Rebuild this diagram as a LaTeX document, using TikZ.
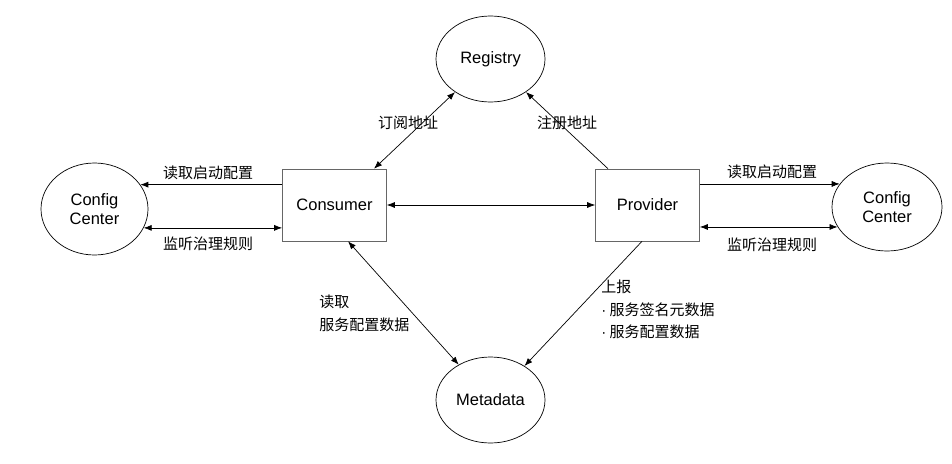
\documentclass[tikz,border=0pt]{standalone}
\usepackage{fontspec}
\setmainfont{Liberation Sans}
\newfontfamily\cjk{Noto Sans CJK SC}
\usetikzlibrary{shapes.geometric, arrows.meta, calc}
\newcommand{\ew}{109pt}
\newcommand{\eh}{86pt}

\begin{document}
\begin{tikzpicture}[x=1pt, y=-1pt,
        line width=0.7pt,
        >={Latex[length=8pt,width=6pt]},
        oval/.style={draw, ellipse, minimum width=\ew, minimum height=\eh, inner sep=0pt,
            align=center, font=\fontsize{16.5}{19}\selectfont},
        box/.style={draw=black!60, line width=0.6pt, fill=white, minimum width=104pt,
            minimum height=72pt, font=\fontsize{16.5}{19}\selectfont},
        lbl/.style={font=\cjk\fontsize{15}{22.5}\selectfont, inner sep=0pt}]

        \useasboundingbox (0, 0) rectangle (952, 463);

        \node[oval] (reg) at (490.5, 59) {Registry};
        \node[oval] (meta) at (490.5, 400) {Metadata};
        \node[oval, minimum width=107pt, minimum height=92pt] (cfgl) at (94.5, 209) {Config\\Center};
        \node[oval, minimum width=110pt, minimum height=88pt] (cfgr) at (887, 207) {Config\\Center};

        \node[box] (cons) at (334.5, 205) {Consumer};
        \node[box] (prov) at (647.5, 205) {Provider};

        \draw[<->] (cons) -- (prov);

        \draw[<->] ([xshift=39.5]cons.north) -- (reg.223);
        \draw[->] ([xshift=-39.5]prov.north) -- (reg.317);

        \draw[<->] ([xshift=13.5]cons.south) -- (meta.132);
        \draw[->] ([xshift=-5.5]prov.south) -- (meta.45);

        \draw[->] (cons.west |- cfgl.28) -- (cfgl.28);
        \draw[<->] (cons.west |- cfgl.-21) -- (cfgl.-21);

        \draw[->] (prov.east |- cfgr.154) -- (cfgr.154);
        \draw[<->] (prov.east |- cfgr.202) -- (cfgr.202);

        \node[lbl] (rdl) at (208, 173) {读取启动配置};
        \node[lbl] (lsl) at (208, 244) {监听治理规则};
        \node[lbl] (rdr) at (772, 172) {读取启动配置};
        \node[lbl] (lsr) at (772, 245) {监听治理规则};

        \node[lbl] (sub) at (408, 123) {订阅地址};
        \node[lbl] (regaddr) at (567, 123) {注册地址};

        \node[lbl, anchor=north west, align=left] (rdmeta) at (319, 295) {读取\\服务配置数据};
        \node[lbl, anchor=north west, align=left] (rep) at (601, 280)
            {上报\\{\normalfont·} 服务签名元数据\\{\normalfont·} 服务配置数据};

\end{tikzpicture}
\end{document}
